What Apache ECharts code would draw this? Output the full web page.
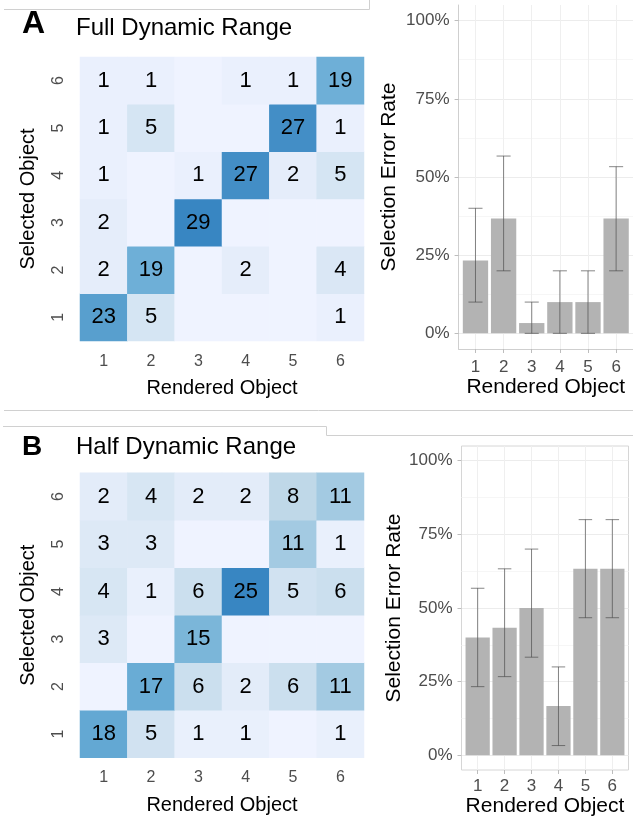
<!DOCTYPE html>
<html><head><meta charset="utf-8">
<script src="https://cdn.jsdelivr.net/npm/echarts@6/dist/echarts.min.js"></script>
<style>html,body{margin:0;padding:0;background:#fff}#c{width:633px;height:819px}</style>
</head><body><div id="c"></div>
<script>
const objects = ['1','2','3','4','5','6'];
// rows = Selected Object 1..6, columns = Rendered Object 1..6
const fullCounts = [
  [23, 5, 0, 0, 0, 1],
  [ 2,19, 0, 2, 0, 4],
  [ 2, 0,29, 0, 0, 0],
  [ 1, 0, 1,27, 2, 5],
  [ 1, 5, 0, 0,27, 1],
  [ 1, 1, 0, 1, 1,19]
];
const halfCounts = [
  [18, 5, 1, 1, 0, 1],
  [ 0,17, 6, 2, 6,11],
  [ 3, 0,15, 0, 0, 0],
  [ 4, 1, 6,25, 5, 6],
  [ 3, 3, 0, 0,11, 1],
  [ 2, 4, 2, 2, 8,11]
];
const fullErrorRate = [23.3, 36.7, 3.3, 10, 10, 36.7];
const fullErrorLow  = [10, 20, 0, 0, 0, 20];
const fullErrorHigh = [40, 56.7, 10, 20, 20, 53.3];
const halfErrorRate = [40, 43.3, 50, 16.7, 63.3, 63.3];
const halfErrorLow  = [23.3, 26.7, 33.3, 3.3, 46.7, 46.7];
const halfErrorHigh = [56.7, 63.3, 70, 30, 80, 80];
const percentTicks = [0, 25, 50, 75, 100];
const percentMinor = [12.5, 37.5, 62.5, 87.5];
const objectPositions = [1, 2, 3, 4, 5, 6];

const FONT = 'Liberation Sans, Arial, Helvetica, sans-serif';
const blues = ['#eff3ff', '#bdd7e7', '#6baed6', '#3886c2'];

function heatData(counts) {
  const out = [];
  counts.forEach((row, yi) => row.forEach((v, xi) => out.push([xi, yi, v])));
  return out;
}
function maxOf(counts) { return Math.max(...counts.flat()); }

function heatAxes(g, xMargin, xNameGap) {
  return {
    x: {
      type: 'category', gridIndex: g, data: objects,
      axisLine: {show: false}, axisTick: {show: false}, splitLine: {show: false},
      axisLabel: {fontSize: 16, color: '#4d4d4d', margin: xMargin, fontFamily: FONT},
      name: 'Rendered Object', nameLocation: 'middle', nameGap: xNameGap,
      nameTextStyle: {fontSize: 20, color: '#000', fontFamily: FONT}
    },
    y: {
      type: 'category', gridIndex: g, data: objects,
      axisLine: {show: false}, axisTick: {show: false}, splitLine: {show: false},
      axisLabel: {fontSize: 16, color: '#4d4d4d', margin: 13, rotate: 90, fontFamily: FONT},
      name: 'Selected Object', nameLocation: 'middle', nameGap: 42, nameRotate: 90,
      nameTextStyle: {fontSize: 20, color: '#000', fontFamily: FONT}
    }
  };
}

function barAxes(g, framed, xMargin, yNameGap, xNameGap) {
  const lineCol = '#cfcfcf';
  return {
    x: {
      type: 'value', gridIndex: g, min: 0.4, max: 6.6,
      axisLine: {show: !framed, onZero: false, lineStyle: {color: lineCol}},
      axisTick: {show: true, customValues: objectPositions, length: 4, lineStyle: {color: '#bdbdbd'}},
      axisLabel: {customValues: objectPositions, fontSize: 17, color: '#4d4d4d', margin: xMargin, fontFamily: FONT},
      splitLine: {show: true, lineStyle: {color: '#efefef'}},
      name: 'Rendered Object', nameLocation: 'middle', nameGap: xNameGap,
      nameTextStyle: {fontSize: 21, color: '#000', fontFamily: FONT}
    },
    y: [{
      type: 'value', gridIndex: g, min: -5, max: 105,
      axisLine: {show: !framed, lineStyle: {color: lineCol}},
      axisTick: {show: true, customValues: percentTicks, length: 4, lineStyle: {color: '#bdbdbd'}},
      axisLabel: {customValues: percentTicks, formatter: '{value}%', fontSize: 17, color: '#4d4d4d', margin: 9, fontFamily: FONT},
      splitLine: {show: true, lineStyle: {color: '#ececec'}},
      name: 'Selection Error Rate', nameLocation: 'middle', nameGap: yNameGap, nameRotate: 90,
      nameTextStyle: {fontSize: 21, color: '#000', fontFamily: FONT}
    }, {
      type: 'value', gridIndex: g, min: -5, max: 105, position: 'left',
      axisLine: {show: false},
      axisTick: {show: false, customValues: percentMinor},
      axisLabel: {show: false, customValues: percentMinor},
      splitLine: {show: true, lineStyle: {color: '#f6f6f6'}}
    }]
  };
}

function errorSeries(xi, yi, low, high) {
  return {
    type: 'custom', xAxisIndex: xi, yAxisIndex: yi, z: 5,
    data: low.map((l, i) => [i + 1, l, high[i]]),
    encode: {x: 0, y: [1, 2]},
    renderItem: function (params, api) {
      const x = api.value(0);
      const pLo = api.coord([x, api.value(1)]);
      const pHi = api.coord([x, api.value(2)]);
      const half = api.size([0.25, 0])[0];
      const st = {stroke: 'rgba(70,70,70,0.65)', lineWidth: 1};
      return {type: 'group', children: [
        {type: 'line', shape: {x1: pLo[0], y1: pHi[1], x2: pLo[0], y2: pLo[1]}, style: st},
        {type: 'line', shape: {x1: pHi[0] - half, y1: pHi[1], x2: pHi[0] + half, y2: pHi[1]}, style: st},
        {type: 'line', shape: {x1: pLo[0] - half, y1: pLo[1], x2: pLo[0] + half, y2: pLo[1]}, style: st}
      ]};
    }
  };
}

const hA = heatAxes(0, 13, 37), hB = heatAxes(2, 12, 38);
const bA = barAxes(1, false, 9.5, 59, 27);
const bB = barAxes(3, true, 7.5, 56, 26);

const heatLabel = {
  show: true, fontSize: 22, color: '#000', fontFamily: FONT,
  formatter: p => (p.value[2] ? String(p.value[2]) : '')
};

const lineStyle = {stroke: '#d0d0d0', lineWidth: 1};

const option = {
  animation: false,
  textStyle: {fontFamily: FONT},
  grid: [
    {left: 80, top: 57, width: 284, height: 284},
    {left: 458.6, top: 5, width: 176.7, height: 344},
    {left: 80, top: 472.7, width: 284, height: 285},
    {left: 461.5, top: 446, width: 167, height: 324, show: true, borderColor: '#d6d6d6', borderWidth: 1, backgroundColor: 'transparent'}
  ],
  xAxis: [hA.x, bA.x, hB.x, bB.x],
  yAxis: [hA.y, bA.y[0], bA.y[1], hB.y, bB.y[0], bB.y[1]],
  visualMap: [
    {type: 'continuous', show: false, seriesIndex: 0, min: 0, max: maxOf(fullCounts), dimension: 2, inRange: {color: blues}},
    {type: 'continuous', show: false, seriesIndex: 3, min: 0, max: maxOf(halfCounts), dimension: 2, inRange: {color: blues}}
  ],
  series: [
    {type: 'heatmap', xAxisIndex: 0, yAxisIndex: 0, data: heatData(fullCounts), label: heatLabel, emphasis: {disabled: true}},
    {type: 'bar', xAxisIndex: 1, yAxisIndex: 1, data: fullErrorRate.map((v, i) => [i + 1, v]), barWidth: '90%', itemStyle: {color: '#b3b3b3'}},
    errorSeries(1, 1, fullErrorLow, fullErrorHigh),
    {type: 'heatmap', xAxisIndex: 2, yAxisIndex: 3, data: heatData(halfCounts), label: heatLabel, emphasis: {disabled: true}},
    {type: 'bar', xAxisIndex: 3, yAxisIndex: 4, data: halfErrorRate.map((v, i) => [i + 1, v]), barWidth: '90%', itemStyle: {color: '#b3b3b3'}},
    errorSeries(3, 4, halfErrorLow, halfErrorHigh)
  ],
  graphic: [
    {type: 'text', x: 22, y: 24.5, style: {text: 'A', font: 'bold 32px ' + FONT, fill: '#000', verticalAlign: 'middle'}},
    {type: 'text', x: 76, y: 28.5, style: {text: 'Full Dynamic Range', font: '24px ' + FONT, fill: '#000', verticalAlign: 'middle'}},
    {type: 'text', x: 22, y: 447, style: {text: 'B', font: 'bold 28px ' + FONT, fill: '#000', verticalAlign: 'middle'}},
    {type: 'text', x: 76, y: 447.5, style: {text: 'Half Dynamic Range', font: '24px ' + FONT, fill: '#000', verticalAlign: 'middle'}},
    {type: 'polyline', shape: {points: [[4, 9.5], [369.5, 9.5], [369.5, 0]]}, style: Object.assign({fill: null}, lineStyle)},
    {type: 'line', shape: {x1: 4, y1: 410.5, x2: 633, y2: 410.5}, style: lineStyle},
    {type: 'polyline', shape: {points: [[3, 426.5], [326.5, 426.5], [326.5, 435.5], [633, 435.5]]}, style: Object.assign({fill: null}, lineStyle)}
  ]
};

const chart = echarts.init(document.getElementById('c'), null, {renderer: 'canvas'});
chart.setOption(option);
</script>
</body></html>
